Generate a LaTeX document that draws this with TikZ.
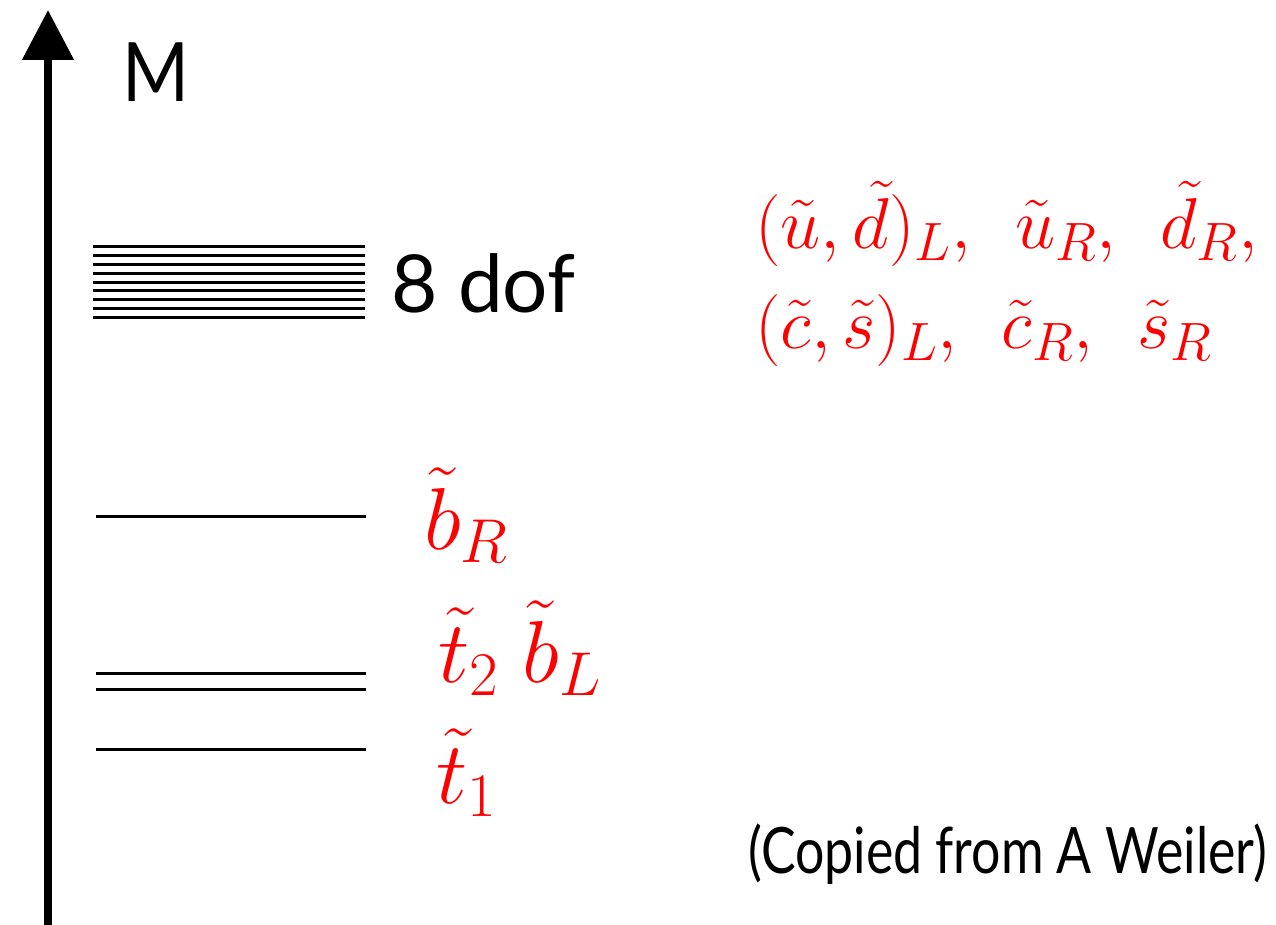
\RequirePackage{fix-cm}
\documentclass[tikz,border=0pt]{standalone}
\usepackage{fontspec}
\setmainfont{Lato}
\usetikzlibrary{arrows.meta}
\newcommand{\gp}{\hskip 0.45em}
\newcommand{\lsub}[1]{_{\hbox{\fontsize{62}{62}\selectfont$#1$}}}
\newcommand{\rsub}[1]{_{\hbox{\fontsize{54}{54}\selectfont$#1$}}}
\begin{document}
\begin{tikzpicture}[x=1pt,y=-1pt,
  level/.style={line width=3pt},
  lab/.style={text=red,inner sep=0pt,anchor=base west},
  sans/.style={inner sep=0pt,anchor=base west}]
\useasboundingbox (0,0) rectangle (1276,925);
\coordinate (bot) at (48,925);
\coordinate (top) at (48,10);
\draw[line width=8pt,-{Triangle[width=50pt,length=50pt]}] (bot) -- (top);
\foreach \i in {0,...,8}{
  \draw[level] (93,{247+\i*8.75}) -- (365,{247+\i*8.75});
}
\coordinate (bRl) at (96,516); \coordinate (bRr) at (366,516);
\coordinate (t2l) at (96,673); \coordinate (t2r) at (366,673);
\coordinate (bLl) at (96,689); \coordinate (bLr) at (366,689);
\coordinate (t1l) at (96,749); \coordinate (t1r) at (366,749);
\draw[level] (bRl) -- (bRr);
\draw[level] (t2l) -- (t2r);
\draw[level] (bLl) -- (bLr);
\draw[level] (t1l) -- (t1r);
\node[sans,font=\fontsize{82}{82}\selectfont] (M) at (122,102) {\scalebox{0.88}[1]{M}};
\node[sans,font=\fontsize{80}{80}\selectfont] (dof) at (391,312) {8 dof};
\node[sans,font=\fontsize{64}{64}\selectfont] (copy) at (748,873) {\scalebox{0.81}[1]{(Copied from A Weiler)}};
\node[lab,font=\fontsize{88}{88}\selectfont] (bR) at (424,549) {$\tilde b\lsub{R}$};
\node[lab,font=\fontsize{88}{88}\selectfont] (t2bL) at (438,682) {$\tilde t\lsub{2}\;\tilde b\lsub{L}$};
\node[lab,font=\fontsize{88}{88}\selectfont] (t1) at (436,803) {$\tilde t\lsub{1}$};
\node[lab,font=\fontsize{72}{72}\selectfont] (first) at (755,248) {$(\tilde u,\tilde d)\rsub{L},\gp\tilde u\rsub{R},\gp\tilde d\rsub{R},$};
\node[lab,font=\fontsize{72}{72}\selectfont] (second) at (755,348) {$(\tilde c,\tilde s)\rsub{L},\gp\tilde c\rsub{R},\gp\tilde s\rsub{R}$};
\end{tikzpicture}
\end{document}
